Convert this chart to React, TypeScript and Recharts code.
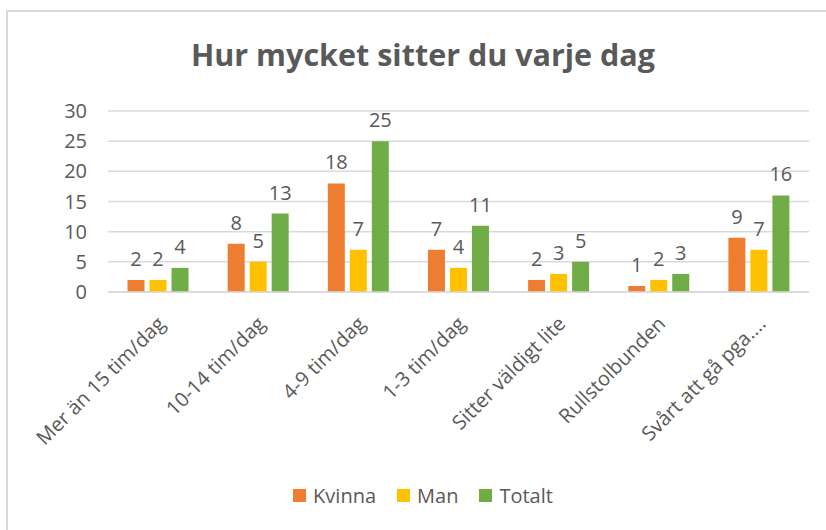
import React from 'react';
import { BarChart, Bar, XAxis, YAxis, CartesianGrid, LabelList, Legend } from 'recharts';

const categories = ['Mer än 15 tim/dag', '10-14 tim/dag', '4-9 tim/dag', '1-3 tim/dag', 'Sitter väldigt lite', 'Rullstolbunden', 'Svårt att gå pga....'];
const kvinna = [2, 8, 18, 7, 2, 1, 9];
const man = [2, 5, 7, 4, 3, 2, 7];
const totalt = [4, 13, 25, 11, 5, 3, 16];
const yTicks = [0, 5, 10, 15, 20, 25, 30];

const seriesNames = ['Kvinna', 'Man', 'Totalt'];
const colors = ['#ED7D31', '#FFC000', '#70AD47'];

const data = categories.map((c, i) => ({ name: c, Kvinna: kvinna[i], Man: man[i], Totalt: totalt[i] }));

const FONT = '"Open Sans", Lato, sans-serif';
const TEXT = '#595959';

const XTick = (props: any) => {
  const { x, y, payload } = props;
  return (
    <g transform={`translate(${x + 8},${y + 33})`}>
      <text x={0} y={0} textAnchor="end" transform="rotate(-45)" fill={TEXT} fontSize={20} fontFamily={FONT}>
        {payload.value}
      </text>
    </g>
  );
};

const LegendContent = () => (
  <div style={{ display: 'flex', justifyContent: 'center', alignItems: 'center', fontFamily: FONT, fontSize: 20, color: TEXT, paddingLeft: 20 }}>
    {seriesNames.map((n, i) => (
      <div key={n} style={{ display: 'flex', alignItems: 'center', marginLeft: i === 0 ? 0 : 21 }}>
        <span style={{ display: 'inline-block', width: 13, height: 13, background: colors[i], marginRight: 7 }} />
        <span>{n}</span>
      </div>
    ))}
  </div>
);

export default function App() {
  return (
    <div style={{ position: 'absolute', left: 0, top: 0, width: 826, height: 530, background: '#fff', overflow: 'hidden' }}>
      <div style={{ position: 'absolute', left: 6, top: 10, width: 820, height: 2, background: '#D9D9D9' }} />
      <div style={{ position: 'absolute', left: 6, top: 10, width: 2, height: 520, background: '#D9D9D9' }} />
      <div style={{ position: 'absolute', left: 10, top: 33, width: 826, textAlign: 'center', fontFamily: FONT, fontWeight: 700, fontSize: 30.5, color: TEXT }}>
        Hur mycket sitter du varje dag
      </div>
      <div style={{ position: 'absolute', left: 0, top: 0 }}>
        <BarChart width={826} height={530} data={data} margin={{ top: 111, right: 17, left: 0, bottom: 88 }} barCategoryGap="19.5%" barGap={5}>
          <CartesianGrid vertical={false} stroke="#D9D9D9" strokeWidth={1.5} />
          <XAxis dataKey="name" height={150} interval={0} tick={<XTick />} tickLine={false} axisLine={{ stroke: '#D9D9D9', strokeWidth: 1.5 }} tickSize={0} tickMargin={0} />
          <YAxis width={108} domain={[0, 30]} ticks={yTicks} tickLine={false} axisLine={false} tickSize={0} tickMargin={21} tick={{ fill: TEXT, fontSize: 20, fontFamily: FONT }} />
          <Legend verticalAlign="middle" align="center" layout="horizontal" content={<LegendContent />} wrapperStyle={{ top: 482, left: 0, width: 826 }} />
          {seriesNames.map((n, i) => (
            <Bar key={n} dataKey={n} fill={colors[i]} isAnimationActive={false}>
              <LabelList dataKey={n} position="top" offset={14} fill={TEXT} fontSize={20} fontFamily={FONT} />
            </Bar>
          ))}
        </BarChart>
      </div>
    </div>
  );
}
